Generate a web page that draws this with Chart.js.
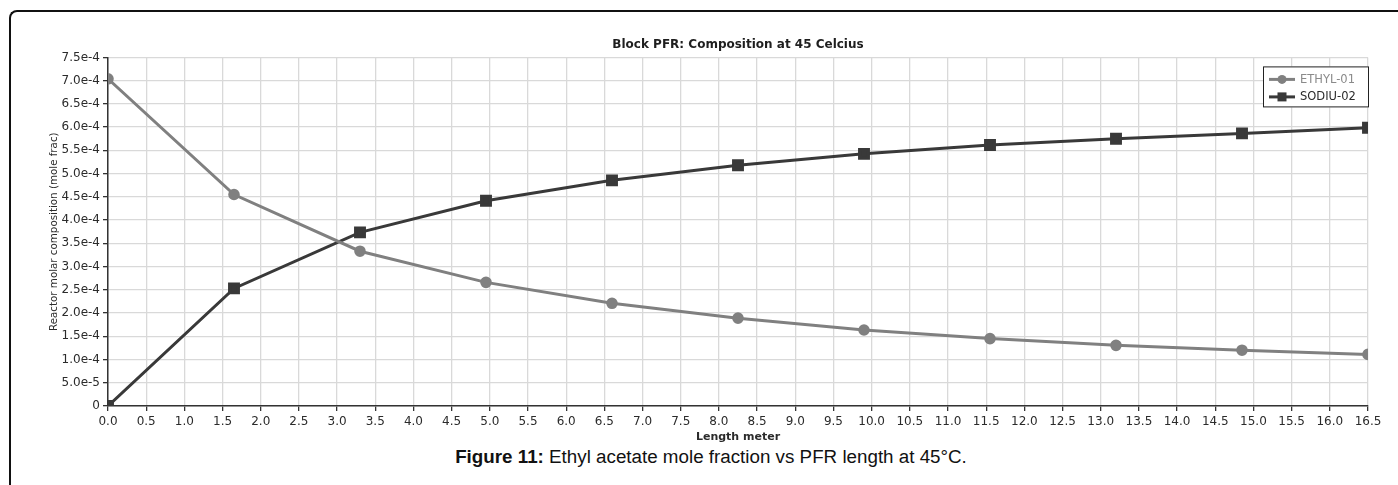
<!DOCTYPE html>
<html>
<head>
<meta charset="utf-8">
<script src="https://cdn.jsdelivr.net/npm/chart.js@4.4.1/dist/chart.umd.min.js"></script>
<style>
  html, body { margin: 0; padding: 0; background: #fff; }
  body { width: 1398px; height: 485px; position: relative; overflow: hidden; }
  .frame {
    position: absolute; left: 9px; top: 10px; width: 1420px; height: 500px;
    border-left: 2px solid #111; border-top: 2px solid #111;
    border-top-left-radius: 8px;
  }
  #wrap { position: absolute; left: 0; top: 0; width: 1398px; height: 446px; }
  .caption {
    position: absolute; left: 12px; width: 1398px; top: 446px;
    text-align: center; font-family: "Liberation Sans", Arial, sans-serif;
    font-size: 18.8px; color: #111;
  }
  .caption b { font-weight: bold; }
</style>
</head>
<body>
<div class="frame"></div>
<div id="wrap"><canvas id="pfrChart"></canvas></div>
<div class="caption"><b>Figure 11:</b> Ethyl acetate mole fraction vs PFR length at 45°C.</div>
<script>
// reactor length (m) and mole fractions along the PFR
const lengthM = [0, 1.65, 3.3, 4.95, 6.6, 8.25, 9.9, 11.55, 13.2, 14.85, 16.5];
const ethyl01 = [7.04e-4, 4.55e-4, 3.33e-4, 2.66e-4, 2.21e-4, 1.89e-4, 1.635e-4, 1.45e-4, 1.305e-4, 1.20e-4, 1.11e-4];
const sodiu02 = [0, 2.53e-4, 3.735e-4, 4.415e-4, 4.855e-4, 5.18e-4, 5.425e-4, 5.615e-4, 5.75e-4, 5.865e-4, 5.985e-4];

const seriesNames = ['ETHYL-01', 'SODIU-02'];

const xTickLabels = ['0.0', '0.5', '1.0', '1.5', '2.0', '2.5', '3.0', '3.5', '4.0', '4.5', '5.0', '5.5',
  '6.0', '6.5', '7.0', '7.5', '8.0', '8.5', '9.0', '9.5', '10.0', '10.5', '11.0', '11.5',
  '12.0', '12.5', '13.0', '13.5', '14.0', '14.5', '15.0', '15.5', '16.0', '16.5'];
const yTickLabels = ['0', '5.0e-5', '1.0e-4', '1.5e-4', '2.0e-4', '2.5e-4', '3.0e-4', '3.5e-4',
  '4.0e-4', '4.5e-4', '5.0e-4', '5.5e-4', '6.0e-4', '6.5e-4', '7.0e-4', '7.5e-4'];

const FONT = '"DejaVu Sans", Verdana, sans-serif';
const TXT = '#2b2b2b';

function toPoints(ys) {
  return lengthM.map((x, i) => ({ x: x, y: ys[i] }));
}

// boxed legend in the top-right corner of the plot, line + marker samples
const boxLegend = {
  id: 'boxLegend',
  afterDraw(chart) {
    const ctx = chart.ctx;
    const area = chart.chartArea;
    const w = 106, h = 41;
    const x0 = area.right - w + 1, y0 = area.top + 9;
    ctx.save();
    ctx.fillStyle = '#fff';
    ctx.fillRect(x0, y0, w, h);
    ctx.strokeStyle = '#222';
    ctx.lineWidth = 1;
    ctx.strokeRect(x0 + 0.5, y0 + 0.5, w - 1, h - 1);
    ctx.font = '11.5px ' + FONT;
    ctx.textBaseline = 'middle';
    chart.data.datasets.forEach((ds, i) => {
      const cy = y0 + 13 + i * 17.5;
      ctx.strokeStyle = ds.borderColor;
      ctx.lineWidth = 3;
      ctx.beginPath();
      ctx.moveTo(x0 + 6, cy);
      ctx.lineTo(x0 + 32, cy);
      ctx.stroke();
      ctx.fillStyle = ds.backgroundColor;
      if (ds.pointStyle === 'rect') {
        ctx.fillRect(x0 + 14.5, cy - 4.5, 9, 9);
      } else {
        ctx.beginPath();
        ctx.arc(x0 + 19, cy, 4.5, 0, Math.PI * 2);
        ctx.fill();
      }
      ctx.fillStyle = i === 0 ? '#8a8a8a' : '#2b2b2b';
      ctx.fillText(ds.label, x0 + 37, cy + 0.5);
    });
    ctx.restore();
  }
};

new Chart(document.getElementById('pfrChart'), {
  type: 'line',
  data: {
    datasets: [
      {
        label: seriesNames[0],
        data: toPoints(ethyl01),
        borderColor: '#808080',
        backgroundColor: '#808080',
        borderWidth: 3,
        pointStyle: 'circle',
        pointRadius: 4.3,
        tension: 0
      },
      {
        label: seriesNames[1],
        data: toPoints(sodiu02),
        borderColor: '#393939',
        backgroundColor: '#393939',
        borderWidth: 3,
        pointStyle: 'rect',
        pointRadius: 6.3,
        tension: 0
      }
    ]
  },
  options: {
    responsive: true,
    maintainAspectRatio: false,
    animation: false,
    layout: { padding: { left: 44, right: 30, top: 38, bottom: 0 } },
    plugins: {
      legend: { display: false },
      tooltip: { enabled: false },
      title: {
        display: true,
        fullSize: false,
        text: 'Block PFR: Composition at 45 Celcius',
        color: '#1e1e1e',
        font: { family: FONT, size: 12, weight: 'bold' },
        padding: { top: 0, bottom: 5 }
      }
    },
    scales: {
      x: {
        type: 'linear',
        min: 0,
        max: 16.5,
        afterFit(scale) { scale.height = 40; },
        ticks: {
          stepSize: 0.5,
          autoSkip: false,
          maxRotation: 0,
          padding: 4,
          color: TXT,
          font: { family: FONT, size: 12 },
          callback: (v, i) => xTickLabels[i]
        },
        grid: { color: '#d9d9d9', lineWidth: 1.3, tickLength: 5, tickColor: '#333' },
        border: { color: '#333', width: 1.5 },
        title: {
          display: true,
          text: 'Length meter',
          color: TXT,
          font: { family: FONT, size: 11, weight: 'bold' },
          padding: { top: 2, bottom: 2 }
        }
      },
      y: {
        min: 0,
        max: 7.5e-4,
        afterFit(scale) { scale.width = 64; },
        ticks: {
          stepSize: 5e-5,
          autoSkip: false,
          padding: 3,
          color: TXT,
          font: { family: FONT, size: 12 },
          callback: (v, i) => yTickLabels[i]
        },
        grid: { color: '#d9d9d9', lineWidth: 1.3, tickLength: 5, tickColor: '#333' },
        border: { color: '#333', width: 1.5 },
        title: {
          display: true,
          text: 'Reactor molar composition (mole frac)',
          color: TXT,
          font: { family: FONT, size: 10.3 },
          padding: { top: 4, bottom: 4 }
        }
      }
    }
  },
  plugins: [boxLegend]
});
</script>
</body>
</html>
